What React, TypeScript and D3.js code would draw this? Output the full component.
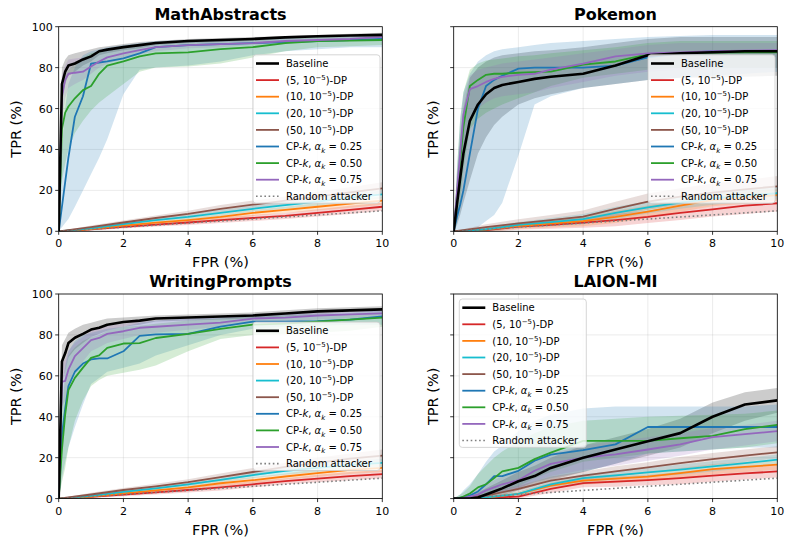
import React from 'react';
import * as d3 from 'd3';

// FPR grid (%) for baseline / CP-k curves, and coarser grid for the DP curves
const FINE_X = [0, 0.1, 0.2, 0.3, 0.5, 0.75, 1, 1.25, 1.5, 2, 2.5, 3, 4, 5, 6, 7, 8, 9, 10];
const COARSE_X = [0, 1, 2, 3, 4, 5, 6, 7, 8, 9, 10];
const randomTPR = [0, 1, 2, 3, 4, 5, 6, 7, 8, 9, 10];

const xTicks = [0, 2, 4, 6, 8, 10];
const yTicks = [0, 20, 40, 60, 80, 100];

const titles = ['MathAbstracts', 'Pokemon', 'WritingPrompts', 'LAION-MI'];
const dpEps = ['5', '10', '20', '50'];
const cpAlpha = ['0.25', '0.50', '0.75'];

const baselineColor = '#000000';
const dpColors = ['#d62728', '#ff7f0e', '#17becf', '#8c564b'];
const cpColors = ['#1f77b4', '#2ca02c', '#9467bd'];
const randomColor = '#7f7f7f';

// rows: Baseline, CP-k 0.25, CP-k 0.50, CP-k 0.75 (on FINE_X)
const mathCP = [
  [0, 72, 78, 81, 82, 84, 85.5, 88, 88.8, 90, 91, 92, 93, 93.5, 94, 94.8, 95.3, 95.7, 96],
  [0, 12, 24, 36, 56, 66, 82, 82.5, 83, 84.5, 87, 90, 91, 91.5, 92, 92.5, 93, 93.5, 94],
  [0, 50, 58, 61, 65, 69, 71, 77, 81, 83, 85.5, 87, 87.5, 89, 90, 92, 93, 93.2, 93.5],
  [0, 66, 74, 77, 77.5, 78, 80.5, 83, 85, 87, 88.5, 90, 91, 91.5, 92, 93, 93.5, 94, 95],
];
const mathCPLo = [
  [0, 62, 72, 76, 78, 81, 83, 86, 87, 88.5, 89.5, 91, 92, 92.5, 93, 94, 94.5, 95, 95],
  [0, 2, 4, 6, 12, 20, 28, 36, 45, 67, 79, 80, 81, 83, 86, 88, 89, 90, 90],
  [0, 25, 33, 40, 48, 54, 59, 63, 66, 72, 78, 80, 80.5, 82, 85, 88, 90, 90.5, 91],
  [0, 55, 65, 70, 72, 74, 77, 80, 82, 84.5, 86.5, 88, 89.5, 90, 91, 92, 92.5, 93, 94],
];
const mathCPHi = [
  [0, 80, 84, 86, 87, 88, 89, 90, 90.5, 91.5, 92.5, 93, 94, 94.5, 95, 95.5, 96, 96.5, 97],
  [0, 40, 60, 72, 80, 86, 88, 89, 90, 91, 92, 93, 93.5, 94, 94.5, 95, 95.5, 96, 96],
  [0, 70, 76, 79, 82, 85, 87, 88, 89, 90, 91, 92, 92.5, 93, 93.5, 94, 95, 95, 95.5],
  [0, 76, 81, 84, 84.5, 85, 86, 87, 88.5, 90, 91, 92, 92.5, 93, 93.5, 94, 94.5, 95, 96],
];
// rows: eps 5, 10, 20, 50 (on COARSE_X)
const mathDP = [
  [0, 1, 2.2, 3.3, 4.3, 5.5, 6.5, 7.5, 9, 10.5, 12],
  [0, 1.1, 2.8, 4.2, 5.5, 7, 9, 10.5, 12, 13.5, 15],
  [0, 1.4, 3.5, 5.5, 7, 9, 11, 12.8, 14.5, 16.5, 18],
  [0, 2, 4.3, 6.5, 8.5, 11, 13, 15, 17, 19, 21],
];
const mathDPSpread = [
  [0, 0.5, 0.8, 1, 1.2, 1.5, 1.5, 1.5, 1.8, 2, 2],
  [0, 0.5, 0.8, 1, 1.2, 1.5, 1.5, 1.5, 1.8, 2, 2],
  [0, 0.5, 1, 1, 1.2, 1.5, 1.5, 1.8, 2, 2, 2],
  [0, 0.8, 1, 1.2, 1.5, 1.8, 2, 2, 2.5, 2.5, 3],
];

const pokeCP = [
  [0, 13, 26, 38, 54, 62, 67, 70, 71.5, 73, 74.5, 75.5, 77, 81, 86, 87, 87.5, 88, 88],
  [0, 7, 13, 20, 38, 60, 71, 74, 76, 79.5, 80, 80, 80, 81, 85, 87, 88, 88, 88],
  [0, 17, 34, 51, 71, 74, 76.5, 77, 77, 77.5, 77.8, 78, 81.5, 83, 86.5, 87, 87.3, 87.5, 87.5],
  [0, 19, 38, 57, 69.5, 71, 73, 74.5, 75.5, 76.5, 77, 79, 82, 85.5, 87, 87.5, 88, 88.3, 88.5],
];
const pokeCPLo = [
  [0, 3, 8, 14, 25, 38, 46, 52, 56, 62, 65, 67, 70, 72, 74, 75, 75, 75.5, 76],
  [0, 0, 0, 0, 1, 2, 5, 8, 14, 37, 62, 66, 70, 72, 74, 75, 76, 77, 78],
  [0, 5, 15, 30, 50, 55, 58, 60, 62, 65, 68, 71, 75, 77, 79, 80, 80, 80, 80],
  [0, 8, 20, 35, 55, 60, 63, 65, 66, 67, 68, 70, 73, 76, 78, 79, 80, 80, 80],
];
const pokeCPHi = [
  [0, 25, 45, 60, 75, 80, 83, 85, 86, 87, 88, 88.5, 90, 92, 94, 95, 95, 95, 95],
  [0, 30, 55, 68, 77, 83, 86, 88, 89, 90, 91, 92, 93, 94, 95, 95.5, 96, 96, 96],
  [0, 30, 55, 68, 79, 82, 83.5, 84, 84.5, 85.5, 86, 87, 88.5, 90, 92, 93, 93, 93, 93],
  [0, 28, 50, 66, 76, 79, 80, 81, 82, 83, 84, 85, 87, 89, 91, 92, 92, 92, 92],
];
const pokeDP = [
  [0, 0.6, 2.3, 3.2, 4.2, 5.5, 7, 9, 10.7, 12.5, 13.7],
  [0, 0.8, 2.6, 3.8, 5, 7, 9.6, 12.5, 15.3, 16.5, 17.8],
  [0, 1, 3.1, 4.5, 5.9, 9, 11.7, 14, 16, 17.5, 18.6],
  [0, 2, 3.9, 5.5, 7.2, 11, 14.5, 17, 18.9, 20.5, 22],
];
const pokeDPSpread = [
  [0, 1, 1.5, 2, 2.5, 3, 3, 3.5, 3.5, 4, 4],
  [0, 1, 1.5, 2, 2.5, 3, 3, 3, 3, 3, 3],
  [0, 1, 1.5, 2, 2.5, 3, 3, 3, 3, 3, 3],
  [0, 1.5, 2, 2.5, 3, 3.5, 4, 4, 4.5, 4.5, 5],
];

const writeCP = [
  [0, 67, 71, 76, 78.6, 80.5, 82.6, 83.5, 85, 86.3, 87, 88, 88.5, 89, 89.5, 90.5, 91.5, 92, 92.5],
  [0, 31, 44, 55, 62, 66, 68, 68.5, 68.5, 72, 79.5, 80.3, 80.5, 84, 86.5, 86.5, 86.7, 87.5, 89],
  [0, 24, 41, 53, 59, 64, 68.8, 70, 73.7, 75.8, 76, 78.5, 80.5, 83, 85, 85.5, 86.5, 87.5, 88.5],
  [0, 57, 57.5, 63, 69.6, 73.5, 77.5, 78.5, 80.5, 81.8, 83.5, 84, 85, 86, 88, 88.5, 89.5, 90, 90.5],
];
const writeCPLo = [
  [0, 55, 62, 69, 73, 76, 79, 80.5, 82, 84, 85, 86.5, 87, 87.5, 88, 89, 90, 91, 91],
  [0, 10, 18, 25, 35, 46, 56, 59, 62, 64, 66, 70, 75, 80, 83, 84, 84.5, 85, 85],
  [0, 8, 15, 25, 38, 48, 55, 58, 60, 61.5, 63, 65, 72, 78, 80, 80.5, 81, 82, 84],
  [0, 45, 48, 55, 62, 67, 72, 74, 76, 78, 80, 81, 82.5, 84, 86, 86.5, 87.5, 88, 89],
];
const writeCPHi = [
  [0, 75, 78, 81, 83, 85, 86, 87, 88, 88.5, 89, 89.5, 90, 90.5, 91, 92, 93, 93.5, 94],
  [0, 50, 65, 72, 77, 80, 81, 82, 83, 84, 86, 87, 88, 89, 90, 90, 90.5, 91, 92],
  [0, 40, 62, 70, 74, 77, 79, 80, 82, 84, 84.5, 85.5, 87, 88, 89, 89.5, 90, 90.5, 91],
  [0, 67, 68, 72, 76, 79, 82, 83, 84.5, 85.5, 86.5, 87, 88, 88.5, 90, 90.5, 91, 91.5, 92],
];
const writeDP = [
  [0, 0.8, 2, 3, 4.2, 5.5, 7, 8.5, 9.8, 11, 12],
  [0, 1, 2.6, 4, 5.5, 7.5, 9, 10.8, 12.5, 14, 15],
  [0, 1.3, 3.3, 5, 7, 9.2, 11.5, 13.5, 15, 16.5, 17.5],
  [0, 2, 4.2, 6, 8, 10.5, 13, 15.5, 17.5, 19.5, 21],
];
const writeDPSpread = [
  [0, 0.5, 0.8, 1, 1.2, 1.5, 1.5, 1.5, 1.8, 2, 2],
  [0, 0.5, 0.8, 1, 1.2, 1.5, 1.5, 1.5, 1.8, 2, 2],
  [0, 0.5, 1, 1, 1.2, 1.5, 1.5, 1.8, 2, 2, 2],
  [0, 0.8, 1, 1.2, 1.5, 1.8, 2, 2, 2.5, 2.5, 3],
];

const laionCP = [
  [0, 0, 0, 0, 0, 0.5, 2, 3.5, 5, 8.5, 11, 15, 20, 24, 28, 32, 40, 46, 48],
  [0, 0, 0.3, 0.6, 1.5, 3.5, 7, 11, 11, 13.6, 18.5, 21.5, 23.7, 26.5, 35, 35, 35, 35, 35],
  [0, 0, 0.5, 1, 2.5, 5.5, 7, 10, 13.3, 15, 19.3, 22.5, 28.2, 28.2, 28.2, 29.5, 30.7, 34, 36],
  [0, 0, 0, 0.3, 1, 2, 4, 5.5, 7, 9, 13.6, 17, 20, 21.6, 24, 26.5, 30, 31.5, 33],
];
const laionCPLo = [
  [0, 0, 0, 0, 0, 0, 0, 0.5, 1.5, 4, 6, 9, 13, 17, 21, 25, 32, 38, 42],
  [0, 0, 0, 0, 0, 0, 1, 2, 3, 5, 8, 10, 13, 17, 22, 23, 24, 25, 25],
  [0, 0, 0, 0, 0, 0.5, 1.5, 3, 4, 6, 10, 13, 18, 20, 22, 23, 24, 25, 27],
  [0, 0, 0, 0, 0, 0.5, 1.5, 2.5, 3.5, 5, 8.5, 11, 14, 16, 18.5, 21, 24, 26, 28],
];
const laionCPHi = [
  [0, 0, 0.5, 1, 2, 3, 5, 7, 9, 13, 16, 20, 26, 30, 34, 39, 47, 52, 54],
  [0, 1, 2, 4, 7, 12, 18, 23, 26, 33, 38, 41, 44, 45, 45, 45, 45, 45, 46],
  [0, 1, 2, 3, 6, 12, 16, 20, 23, 28, 32, 35, 38, 39, 40, 40.5, 41, 41.5, 43],
  [0, 0.5, 1, 1.5, 3, 4.5, 7, 9, 11, 14, 19, 22, 26, 28, 30, 32, 34.5, 36, 38],
];
const laionDP = [
  [0, 0.3, 1, 4.7, 7.6, 8.3, 9, 10, 11.2, 12.3, 13.3],
  [0, 0.5, 2.3, 6.3, 8.8, 9.8, 10.7, 12.5, 14.4, 15.5, 16.6],
  [0, 0.6, 2.3, 7, 10, 11.4, 12.8, 14.2, 15.7, 17.3, 19],
  [0, 1.5, 4.7, 8.8, 11.2, 13.3, 15.3, 17.3, 19.3, 21, 22.6],
];
const laionDPSpread = [
  [0, 0.5, 1, 2, 2, 2.5, 2.5, 3, 3, 3, 3],
  [0, 0.5, 1, 1.5, 2, 2, 2, 2.5, 2.5, 2.5, 2.5],
  [0, 0.5, 1, 1.5, 2, 2, 2, 2.5, 2.5, 2.5, 2.5],
  [0, 1, 1.5, 2, 2, 2.5, 2.5, 3, 3, 3, 3],
];

const W = 323.6;
const H = 204.6;
const FONT = 'DejaVu Sans';

const panels = [
  { title: titles[0], cp: mathCP, lo: mathCPLo, hi: mathCPHi, dp: mathDP, sp: mathDPSpread, left: 58.7, top: 26.7, yLabels: true, legend: 'right' },
  { title: titles[1], cp: pokeCP, lo: pokeCPLo, hi: pokeCPHi, dp: pokeDP, sp: pokeDPSpread, left: 453.7, top: 26.7, yLabels: false, legend: 'right' },
  { title: titles[2], cp: writeCP, lo: writeCPLo, hi: writeCPHi, dp: writeDP, sp: writeDPSpread, left: 58.7, top: 294, yLabels: true, legend: 'right' },
  { title: titles[3], cp: laionCP, lo: laionCPLo, hi: laionCPHi, dp: laionDP, sp: laionDPSpread, left: 453.7, top: 294, yLabels: false, legend: 'left' },
];

function LegendLabel({ i, x, y }: { i: number; x: number; y: number }) {
  if (i === 0) return <text x={x} y={y}>Baseline</text>;
  if (i <= 4) {
    return (
      <text x={x} y={y}>
        <tspan>({dpEps[i - 1]}, 10</tspan>
        <tspan dy={-4} fontSize={7}>−5</tspan>
        <tspan dy={4}>)-DP</tspan>
      </text>
    );
  }
  if (i <= 7) {
    return (
      <text x={x} y={y}>
        <tspan>CP-</tspan>
        <tspan fontStyle="italic">k</tspan>
        <tspan>, </tspan>
        <tspan fontStyle="italic">α</tspan>
        <tspan dy={2.5} fontSize={7} fontStyle="italic">k</tspan>
        <tspan dy={-2.5}> = {cpAlpha[i - 5]}</tspan>
      </text>
    );
  }
  return <text x={x} y={y}>Random attacker</text>;
}

function Panel({ p, idx }: { p: any; idx: number }) {
  const x = d3.scaleLinear().domain([0, 10]).range([p.left, p.left + W]);
  const y = d3.scaleLinear().domain([0, 100]).range([p.top + H, p.top]);
  const line = (xs: number[], ys: number[]) =>
    d3.line<number>().x((_, i) => x(xs[i])).y((d) => y(d))(ys) || '';
  const area = (xs: number[], lo: number[], hi: number[]) =>
    d3.area<number>().x((_, i) => x(xs[i])).y0((d) => y(d)).y1((_, i) => y(hi[i]))(lo) || '';

  const cpCol = [baselineColor, ...cpColors];
  const clipId = `clip${idx}`;
  const entryColors = [baselineColor, ...dpColors, ...cpColors, randomColor];

  const lw = 127;
  const lh = 148.4;
  const lx = p.legend === 'right' ? p.left + W - 2.3 - lw : p.left + 5.6;
  const ly = p.legend === 'right' ? p.top + H / 2 - lh / 2 : p.top + 5;

  return (
    <g>
      <defs>
        <clipPath id={clipId}>
          <rect x={p.left} y={p.top} width={W} height={H} />
        </clipPath>
      </defs>
      {/* grid */}
      {xTicks.map((t) => (
        <line key={'gx' + t} x1={x(t)} x2={x(t)} y1={p.top} y2={p.top + H} stroke="#b0b0b0" strokeOpacity={0.3} strokeWidth={0.8} />
      ))}
      {yTicks.map((t) => (
        <line key={'gy' + t} x1={p.left} x2={p.left + W} y1={y(t)} y2={y(t)} stroke="#b0b0b0" strokeOpacity={0.3} strokeWidth={0.8} />
      ))}
      <g clipPath={`url(#${clipId})`}>
        {p.cp.map((_: number[], k: number) => (
          <path key={'ba' + k} d={area(FINE_X, p.lo[k], p.hi[k])} fill={cpCol[k]} fillOpacity={0.2} stroke="none" />
        ))}
        {p.dp.map((m: number[], k: number) => (
          <path
            key={'da' + k}
            d={area(COARSE_X, m.map((v, j) => v - p.sp[k][j]), m.map((v, j) => v + p.sp[k][j]))}
            fill={dpColors[k]}
            fillOpacity={0.2}
            stroke="none"
          />
        ))}
        {p.dp.map((m: number[], k: number) => (
          <path key={'dl' + k} d={line(COARSE_X, m)} fill="none" stroke={dpColors[k]} strokeWidth={1.8} />
        ))}
        <path d={line(COARSE_X, randomTPR)} fill="none" stroke={randomColor} strokeWidth={1.6} strokeDasharray="1.6,2.6" />
        {[1, 2, 3, 0].map((k) => (
          <path key={'cl' + k} d={line(FINE_X, p.cp[k])} fill="none" stroke={cpCol[k]} strokeWidth={k === 0 ? 2.6 : 1.8} strokeLinejoin="round" />
        ))}
      </g>
      {/* spines */}
      <rect x={p.left} y={p.top} width={W} height={H} fill="none" stroke="#000" strokeWidth={0.8} />
      {/* ticks */}
      {xTicks.map((t) => (
        <g key={'tx' + t}>
          <line x1={x(t)} x2={x(t)} y1={p.top + H} y2={p.top + H + 3.5} stroke="#000" strokeWidth={0.8} />
          <text x={x(t)} y={p.top + H + 16} textAnchor="middle" fontSize={11}>{t}</text>
        </g>
      ))}
      {yTicks.map((t) => (
        <g key={'ty' + t}>
          <line x1={p.left - 3.5} x2={p.left} y1={y(t)} y2={y(t)} stroke="#000" strokeWidth={0.8} />
          {p.yLabels && (
            <text x={p.left - 6} y={y(t) + 4} textAnchor="end" fontSize={11}>{t}</text>
          )}
        </g>
      ))}
      <text x={p.left + W / 2} y={p.top + H + 36} textAnchor="middle" fontSize={14.5}>FPR (%)</text>
      <text
        transform={`translate(${p.left - (p.yLabels ? 38 : 16)}, ${p.top + H / 2}) rotate(-90)`}
        textAnchor="middle"
        fontSize={14.5}
      >
        TPR (%)
      </text>
      <text x={p.left + W / 2} y={p.top - 7} textAnchor="middle" fontSize={16} fontWeight="bold">{p.title}</text>
      {/* legend */}
      <g fontSize={10}>
        <rect x={lx} y={ly} width={lw} height={lh} rx={3} fill="#fff" fillOpacity={0.8} stroke="#cccccc" strokeWidth={0.8} />
        {entryColors.map((c, i) => {
          const ey = ly + 8.7 + i * 16.6;
          return (
            <g key={'le' + i}>
              <line
                x1={lx + 3} x2={lx + 26} y1={ey} y2={ey}
                stroke={c}
                strokeWidth={i === 0 ? 2.6 : i === 8 ? 1.6 : 1.8}
                strokeDasharray={i === 8 ? '1.6,2.6' : undefined}
              />
              <LegendLabel i={i} x={lx + 33} y={ey + 3.6} />
            </g>
          );
        })}
      </g>
    </g>
  );
}

export default function App() {
  return (
    <svg
      width={785}
      height={537}
      style={{ position: 'absolute', left: 0, top: 0, background: '#fff' }}
      fontFamily={FONT}
      fill="#000"
    >
      {panels.map((p, i) => (
        <Panel key={i} p={p} idx={i} />
      ))}
    </svg>
  );
}
